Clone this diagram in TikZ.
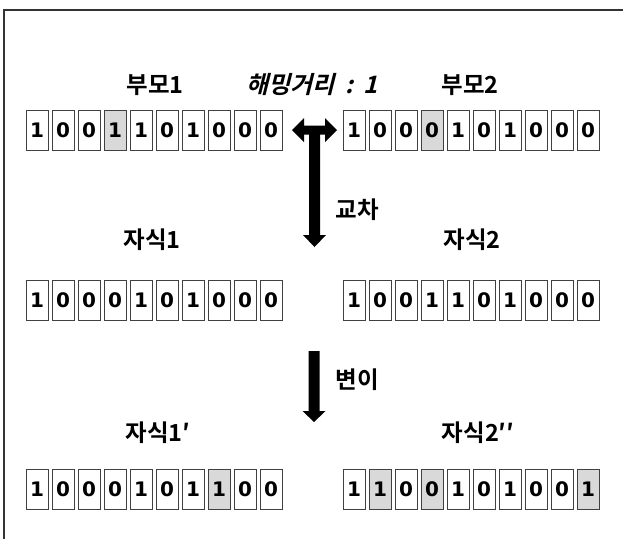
\documentclass[tikz,border=0pt]{standalone}
\usepackage{fontspec}
\setmainfont{Noto Sans CJK KR}[BoldFont={* Bold}]
\newfontfamily\krb{Noto Sans CJK KR Bold}
\newfontfamily\krbi{Noto Sans CJK KR Bold}[FakeSlant=0.25]
\newfontfamily\digb{DejaVu Sans Bold}
\definecolor{bitgray}{HTML}{D9D9D9}
\definecolor{bitline}{HTML}{404040}
\tikzset{
  bit/.style={draw=bitline, line width=0.9pt, fill=white, minimum width=22pt, minimum height=40pt, inner sep=0pt, font=\digb\fontsize{20}{20}\selectfont},
  hit/.style={bit, fill=bitgray},
  lbl/.style={font=\krb\fontsize{23.5}{24}\selectfont, inner sep=0pt},
  ilbl/.style={font=\krbi\fontsize{24}{24}\selectfont, inner sep=0pt},
}
\begin{document}
\begin{tikzpicture}[x=1pt,y=-1pt]
\useasboundingbox (0,0) rectangle (623,539);
\draw[line width=1.2pt, draw=black!80] (4,539) -- (4,10) -- (623,10);
% rows
\foreach \d [count=\i] in {1,0,0,1,1,0,1,0,0,0} {
  \ifnum\i=4 \node[hit] (pa-\i) at ({37+(\i-1)*26},130) {\d};
  \else \node[bit] (pa-\i) at ({37+(\i-1)*26},130) {\d}; \fi
}
\foreach \d [count=\i] in {1,0,0,0,1,0,1,0,0,0} {
  \ifnum\i=4 \node[hit] (pb-\i) at ({354+(\i-1)*26},130) {\d};
  \else \node[bit] (pb-\i) at ({354+(\i-1)*26},130) {\d}; \fi
}
\foreach \d [count=\i] in {1,0,0,0,1,0,1,0,0,0} {
  \node[bit] (ca-\i) at ({37+(\i-1)*26},300) {\d};
}
\foreach \d [count=\i] in {1,0,0,1,1,0,1,0,0,0} {
  \node[bit] (cb-\i) at ({354+(\i-1)*26},300) {\d};
}
\foreach \d [count=\i] in {1,0,0,0,1,0,1,1,0,0} {
  \ifnum\i=8 \node[hit] (ma-\i) at ({37+(\i-1)*26},489) {\d};
  \else \node[bit] (ma-\i) at ({37+(\i-1)*26},489) {\d}; \fi
}
\foreach \d [count=\i] in {1,1,0,0,1,0,1,0,0,1} {
  \ifnum\i=2 \node[hit] (mb-\i) at ({354+(\i-1)*26},489) {\d};
  \else\ifnum\i=4 \node[hit] (mb-\i) at ({354+(\i-1)*26},489) {\d};
  \else\ifnum\i=10 \node[hit] (mb-\i) at ({354+(\i-1)*26},489) {\d};
  \else \node[bit] (mb-\i) at ({354+(\i-1)*26},489) {\d}; \fi\fi\fi
}
% labels
\node[lbl] (lpa) at (155,85) {부모1};
\node[ilbl] (lham) at (312,85) {해밍거리\hspace{0.45em}:\hspace{0.4em}1};
\node[lbl] (lpb) at (470,85) {부모2};
\node[lbl] (lca) at (152,240) {자식1};
\node[lbl] (lcb) at (472,240) {자식2};
\node[lbl] (lma) at (158,433) {자식1′};
\node[lbl] (lmb) at (478,433) {자식2′′};
\node[lbl] (lx) at (357,210) {교차};
\node[lbl] (lm) at (357,380) {변이};
% crossover arrow
\fill[black] (292,130) -- (304,118) -- (304,125.5) -- (325,125.5) -- (325,118) -- (337,130)
  -- (325,142) -- (325,134.5) -- (320,134.5) -- (320,235) -- (326,235) -- (314.5,247)
  -- (303,235) -- (309,235) -- (309,134.5) -- (304,134.5) -- (304,142) -- cycle;
% mutation arrow
\fill[black] (308.5,351) -- (319.5,351) -- (319.5,411) -- (325.5,411) -- (314,422)
  -- (302.5,411) -- (308.5,411) -- cycle;
\end{tikzpicture}
\end{document}
